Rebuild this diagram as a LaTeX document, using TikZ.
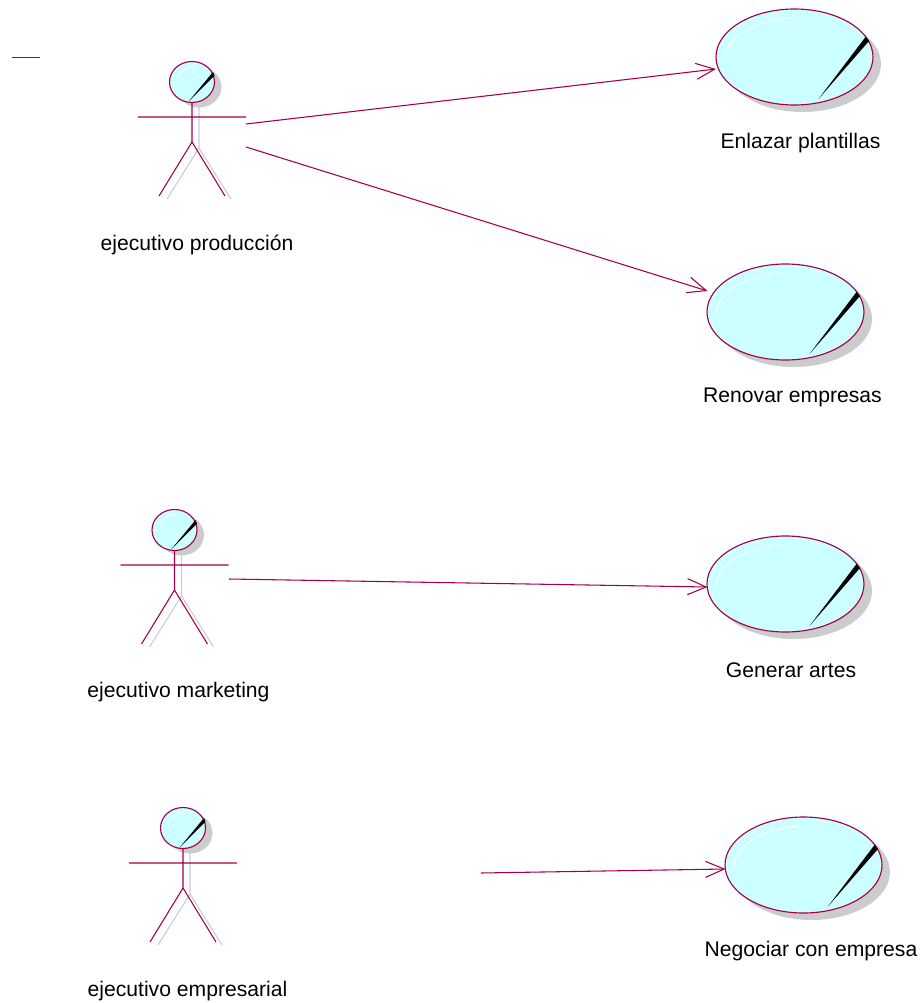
\documentclass[tikz,border=0pt]{standalone}
\usepackage{fontspec}
\setmainfont{Liberation Sans}
\usetikzlibrary{shapes.geometric,arrows.meta}
\definecolor{umlline}{RGB}{165,0,70}
\definecolor{umlfill}{RGB}{204,255,255}
\definecolor{umlshadow}{RGB}{204,204,204}
\tikzset{
  x=0.75pt,y=-0.75pt,
  ucase/.style={ellipse,draw=umlline,fill=umlfill,line width=0.85pt,minimum width=117.75pt,minimum height=72pt,inner sep=0pt,outer sep=0pt},
  ushadow/.style={ellipse,fill=umlshadow,minimum width=117.75pt,minimum height=72pt,inner sep=0pt,outer sep=0pt},
  ahead/.style={ellipse,draw=umlline,fill=umlfill,line width=0.85pt,minimum width=33.75pt,minimum height=30.75pt,inner sep=0pt,outer sep=0pt},
  ahshadow/.style={ellipse,fill=umlshadow,minimum width=33.75pt,minimum height=30.75pt,inner sep=0pt,outer sep=0pt},
  limb/.style={draw=umlline,line width=0.8pt},
  limbshadow/.style={draw=umlshadow,line width=0.8pt},
  gloss/.style={draw=white,line width=0.6pt},
  assoc/.style={draw=umlline,line width=0.8pt,-{Straight Barb[length=14pt,width=12pt,line width=0.8pt]}},
  lbl/.style={font=\fontsize{15.85pt}{19pt}\selectfont,text=black,inner sep=0pt}
}
\newcommand{\usecasefig}[5]{% name, cx, cy, label, label position
  \node[ushadow] (#1s) at (#2+8,#3+7) {};
  \node[ucase] (#1) at (#2,#3) {};
  \draw[gloss] (#2-69.5,#3+1) .. controls (#2-68,#3-22) and (#2-35,#3-38) .. (#2-3,#3-39);
  \fill[black] (#2+24,#3+42) -- (#2+71,#3-20) -- (#2+74.5,#3-16) -- cycle;
  \node[lbl] (#1l) at (#5) {#4};
}
\newcommand{\actorfig}[5]{% name, cx, cy (head), label, label position
  \node[ahshadow] (#1s) at (#2+7,#3+5) {};
  \draw[limbshadow] (#2+7,#3+25) -- (#2+7,#3+66) (#2-25,#3+117) -- (#2+7,#3+66) -- (#2+39,#3+117);
  \draw[limb] (#2,#3+20.5) -- (#2,#3+60) (#2-54,#3+35) -- (#2+54,#3+35) (#2-33,#3+114) -- (#2,#3+60) -- (#2+33,#3+114);
  \node[ahead] (#1) at (#2,#3) {};
  \draw[gloss] (#2-15,#3-1) .. controls (#2-14.5,#3-9) and (#2-8,#3-15) .. (#2+1,#3-16);
  \fill[black] (#2-3,#3+19) -- (#2+21,#3-10) -- (#2+22.5,#3-6.5) -- cycle;
  \node[lbl] (#1l) at (#5) {#4};
}
\begin{document}
\begin{tikzpicture}
\useasboundingbox (0,0) rectangle (923,1003);
\usecasefig{ucA}{794.5}{57}{Enlazar plantillas}{800.5,143}
\usecasefig{ucB}{785.5}{312}{Renovar empresas}{792.5,397}
\usecasefig{ucC}{785.5}{584}{Generar artes}{791,670}
\usecasefig{ucD}{803.5}{865}{Negociar con empresa}{811,951}
\actorfig{acA}{192}{82}{ejecutivo producción}{197,245}
\actorfig{acB}{174.5}{530}{ejecutivo marketing}{178.5,692}
\actorfig{acC}{183}{828}{ejecutivo empresarial}{187.5,991}
\coordinate (s1) at (246,124);
\coordinate (s2) at (246,147);
\coordinate (s3) at (229,579);
\coordinate (s4) at (481,873);
\coordinate (t1) at (716,69);
\coordinate (t2) at (707.5,291);
\coordinate (t3) at (707.5,587);
\coordinate (t4) at (725.5,869);
\coordinate (m1) at (12,57.5);
\coordinate (m2) at (40,57.5);
\draw[assoc] (s1) -- (t1);
\draw[assoc] (s2) -- (t2);
\draw[assoc] (s3) -- (t3);
\draw[assoc] (s4) -- (t4);
\draw[limb] (m1) -- (m2);
\end{tikzpicture}
\end{document}
